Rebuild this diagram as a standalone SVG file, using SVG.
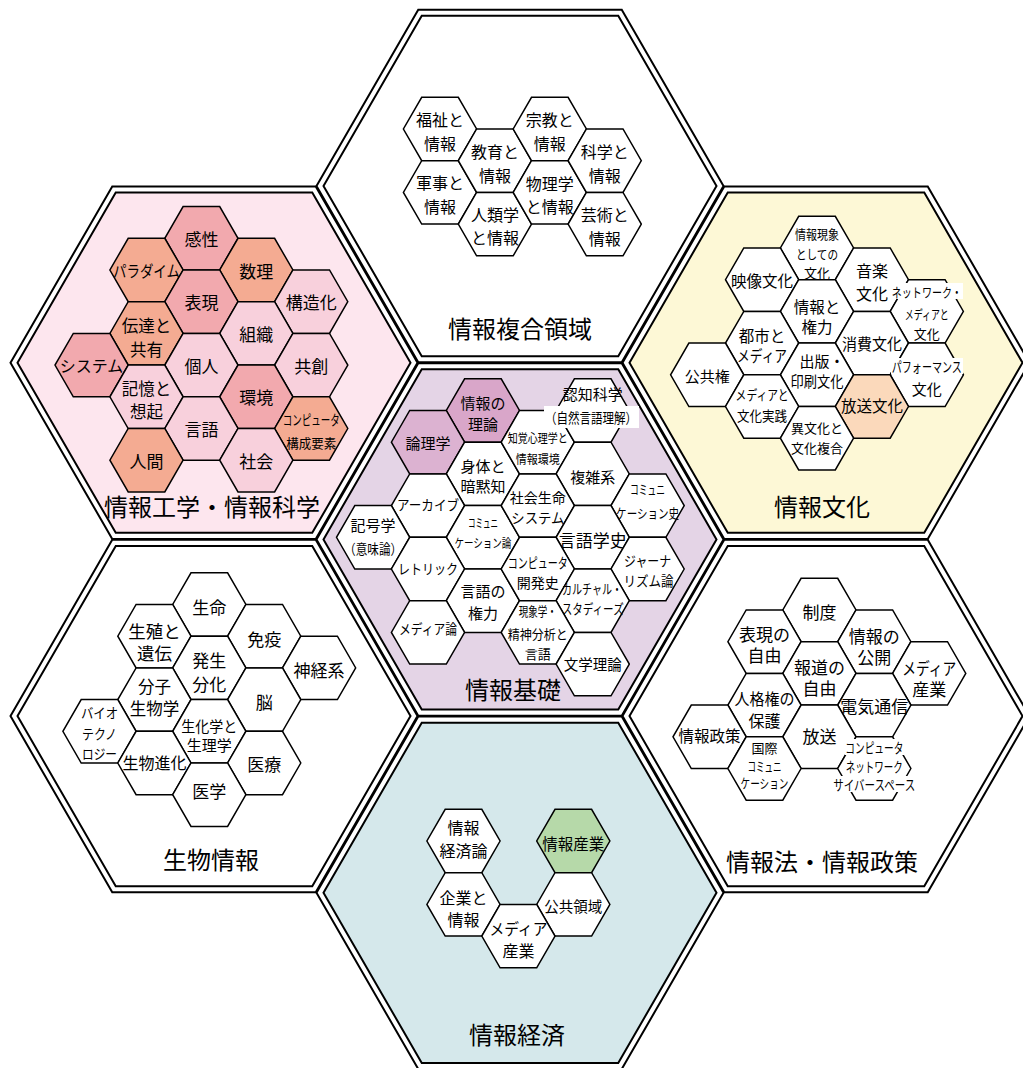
<svg xmlns="http://www.w3.org/2000/svg" xmlns:xlink="http://www.w3.org/1999/xlink" width="1023" height="1068" viewBox="0 0 1023 1068">
<style>
.bo{fill:#fff;stroke:#000;stroke-width:2}
.bi{stroke:#000;stroke-width:2}
.hs{stroke:#000;stroke-width:1.5}
.w{fill:#fff}.sa{fill:#f4ab92}.pk{fill:#f2a9ae}.lp{fill:#f8d0dc}
.mv{fill:#d9a6c9}.mv2{fill:#dcb2d1}.pe{fill:#fbd9bb}.gr{fill:#b6d9a9}
.t,.t tspan{font-family:"Noto Sans CJK JP","Noto Sans",sans-serif;text-anchor:middle;dominant-baseline:central;fill:#000}
.ttl{font-size:24px}
.bg{fill:#fff}
</style>
<defs>
<polygon id="BO" points="203.5,0 101.75,176.24 -101.75,176.24 -203.5,0 -101.75,-176.24 101.75,-176.24"/>
<polygon id="BI" points="196.5,0 98.25,170.17 -98.25,170.17 -196.5,0 -98.25,-170.17 98.25,-170.17"/>
<polygon id="h" points="36.6,0 18.3,31.7 -18.3,31.7 -36.6,0 -18.3,-31.7 18.3,-31.7"/>
</defs>
<rect width="1023" height="1068" fill="#fff"/>

<g id="area-top"><use href="#BO" x="520" y="186" class="bo"/><use href="#BI" x="520" y="186" class="bi" fill="#fff"/></g>
<g id="area-pink"><use href="#BO" x="214" y="362.7" class="bo"/><use href="#BI" x="214" y="362.7" class="bi" fill="#fde6ee"/></g>
<g id="area-yellow"><use href="#BO" x="826" y="362.7" class="bo"/><use href="#BI" x="826" y="362.7" class="bi" fill="#fdf8d6"/></g>
<g id="area-center"><use href="#BO" x="520" y="539.4" class="bo"/><use href="#BI" x="520" y="539.4" class="bi" fill="#e4d4e6"/></g>
<g id="area-bio"><use href="#BO" x="214" y="716.1" class="bo"/><use href="#BI" x="214" y="716.1" class="bi" fill="#fff"/></g>
<g id="area-law"><use href="#BO" x="826" y="716.1" class="bo"/><use href="#BI" x="826" y="716.1" class="bi" fill="#fff"/></g>
<g id="area-econ"><use href="#BO" x="520" y="892.8" class="bo"/><use href="#BI" x="520" y="892.8" class="bi" fill="#d5e8eb"/></g>

<g id="connectors"/>

<!-- top cluster -->
<g id="n-fukushi"><use href="#h" x="440" y="129" class="hs w"/><text class="t" font-size="16"><tspan x="440" y="119">福祉と</tspan><tspan x="440" y="143">情報</tspan></text></g>
<g id="n-gunji"><use href="#h" x="440" y="192.4" class="hs w"/><text class="t" font-size="16"><tspan x="440" y="182.4">軍事と</tspan><tspan x="440" y="206.4">情報</tspan></text></g>
<g id="n-kyoiku"><use href="#h" x="494.9" y="160.7" class="hs w"/><text class="t" font-size="16"><tspan x="494.9" y="150.7">教育と</tspan><tspan x="494.9" y="174.7">情報</tspan></text></g>
<g id="n-jinrui"><use href="#h" x="494.9" y="224.1" class="hs w"/><text class="t" font-size="16"><tspan x="494.9" y="214">人類学</tspan><tspan x="494.9" y="237">と情報</tspan></text></g>
<g id="n-shukyo"><use href="#h" x="549.8" y="129" class="hs w"/><text class="t" font-size="16"><tspan x="549.8" y="119">宗教と</tspan><tspan x="549.8" y="143">情報</tspan></text></g>
<g id="n-butsuri"><use href="#h" x="549.8" y="192.4" class="hs w"/><text class="t" font-size="16"><tspan x="549.8" y="183">物理学</tspan><tspan x="549.8" y="206">と情報</tspan></text></g>
<g id="n-kagaku"><use href="#h" x="604.7" y="160.7" class="hs w"/><text class="t" font-size="16"><tspan x="604.7" y="150.7">科学と</tspan><tspan x="604.7" y="174.7">情報</tspan></text></g>
<g id="n-geijutsu"><use href="#h" x="604.7" y="224.1" class="hs w"/><text class="t" font-size="16"><tspan x="604.7" y="214.1">芸術と</tspan><tspan x="604.7" y="238.1">情報</tspan></text></g>

<!-- pink cluster -->
<g id="n-kansei"><use href="#h" x="201.4" y="238.3" class="hs pk"/><text class="t" font-size="17" x="201.4" y="238.3">感性</text></g>
<g id="n-paradigm"><use href="#h" x="146.5" y="270" class="hs sa"/><text class="t" font-size="16" x="146.5" y="270" textLength="67" lengthAdjust="spacingAndGlyphs">パラダイム</text></g>
<g id="n-suri"><use href="#h" x="256.3" y="270" class="hs sa"/><text class="t" font-size="17" x="256.3" y="270">数理</text></g>
<g id="n-hyogen"><use href="#h" x="201.4" y="301.7" class="hs pk"/><text class="t" font-size="17" x="201.4" y="301.7">表現</text></g>
<g id="n-kozoka"><use href="#h" x="311.2" y="301.7" class="hs lp"/><text class="t" font-size="17" x="311.2" y="301.7">構造化</text></g>
<g id="n-dentatsu"><use href="#h" x="146.5" y="333.4" class="hs sa"/><text class="t" font-size="16.5"><tspan x="146.5" y="324.5">伝達と</tspan><tspan x="146.5" y="349">共有</tspan></text></g>
<g id="n-soshiki"><use href="#h" x="256.3" y="333.4" class="hs lp"/><text class="t" font-size="17" x="256.3" y="333.4">組織</text></g>
<g id="n-system"><use href="#h" x="91.6" y="365.1" class="hs pk"/><text class="t" font-size="16" x="91.6" y="365.1">システム</text></g>
<g id="n-kojin"><use href="#h" x="201.4" y="365.1" class="hs lp"/><text class="t" font-size="17" x="201.4" y="365.1">個人</text></g>
<g id="n-kyoso"><use href="#h" x="311.2" y="365.1" class="hs lp"/><text class="t" font-size="17" x="311.2" y="365.1">共創</text></g>
<g id="n-kioku"><use href="#h" x="146.5" y="396.8" class="hs lp"/><text class="t" font-size="16.5"><tspan x="146.5" y="388">記憶と</tspan><tspan x="146.5" y="411">想起</tspan></text></g>
<g id="n-kankyo"><use href="#h" x="256.3" y="396.8" class="hs pk"/><text class="t" font-size="17" x="256.3" y="396.8">環境</text></g>
<g id="n-gengo"><use href="#h" x="201.4" y="428.5" class="hs lp"/><text class="t" font-size="17" x="201.4" y="428.5">言語</text></g>
<g id="n-computer"><use href="#h" x="311.2" y="428.5" class="hs sa"/><text class="t" font-size="14"><tspan x="311.2" y="419" textLength="57" lengthAdjust="spacingAndGlyphs">コンピュータ</tspan><tspan x="311.2" y="441.5" font-size="13" textLength="50" lengthAdjust="spacingAndGlyphs">構成要素</tspan></text></g>
<g id="n-ningen"><use href="#h" x="146.5" y="460.2" class="hs sa"/><text class="t" font-size="17" x="146.5" y="460.2">人間</text></g>
<g id="n-shakai"><use href="#h" x="256.3" y="460.2" class="hs lp"/><text class="t" font-size="17" x="256.3" y="460.2">社会</text></g>

<!-- yellow cluster -->
<g id="n-genshou"><use href="#h" x="817" y="248" class="hs w"/><text class="t" font-size="13"><tspan x="817" y="233" textLength="44" lengthAdjust="spacingAndGlyphs">情報現象</tspan><tspan x="817" y="253" textLength="42" lengthAdjust="spacingAndGlyphs">としての</tspan><tspan x="817" y="272">文化</tspan></text></g>
<g id="n-eizo"><use href="#h" x="762.1" y="279.7" class="hs w"/><text class="t" font-size="15.5" x="762.1" y="280" textLength="62" lengthAdjust="spacingAndGlyphs">映像文化</text></g>
<g id="n-ongaku"><use href="#h" x="871.9" y="279.7" class="hs w"/><text class="t" font-size="16"><tspan x="872" y="270">音楽</tspan><tspan x="872" y="293">文化</tspan></text></g>
<g id="n-kenryoku"><use href="#h" x="817" y="311.4" class="hs w"/><text class="t" font-size="15.5"><tspan x="817" y="305.5">情報と</tspan><tspan x="817" y="325.5">権力</tspan></text></g>
<g id="n-toshi"><use href="#h" x="762.1" y="343.1" class="hs w"/><text class="t" font-size="15.5"><tspan x="762.1" y="334.5">都市と</tspan><tspan x="762.1" y="354.5" textLength="50" lengthAdjust="spacingAndGlyphs">メディア</tspan></text></g>
<g id="n-network"><use href="#h" x="926.8" y="311.4" class="hs w"/><rect class="bg" x="891" y="283" width="72" height="16"/><text class="t" font-size="13"><tspan x="926.8" y="291" textLength="70" lengthAdjust="spacingAndGlyphs">ネットワーク・</tspan><tspan x="926.8" y="313" textLength="44" lengthAdjust="spacingAndGlyphs">メディアと</tspan><tspan x="926.8" y="333">文化</tspan></text></g>
<g id="n-shohi"><use href="#h" x="871.9" y="343.1" class="hs w"/><text class="t" font-size="15.5" x="871.9" y="343" textLength="60" lengthAdjust="spacingAndGlyphs">消費文化</text></g>
<g id="n-kokyoken"><use href="#h" x="707.2" y="374.8" class="hs w"/><text class="t" font-size="15" x="707.2" y="375">公共権</text></g>
<g id="n-shuppan"><use href="#h" x="817" y="374.8" class="hs w"/><text class="t" font-size="15"><tspan x="822" y="360">出版・</tspan><tspan x="817" y="380" textLength="53" lengthAdjust="spacingAndGlyphs">印刷文化</tspan></text></g>
<g id="n-performance"><use href="#h" x="926.8" y="374.8" class="hs w"/><rect class="bg" x="891" y="358" width="72" height="16"/><text class="t" font-size="14"><tspan x="926.8" y="366" textLength="70" lengthAdjust="spacingAndGlyphs">パフォーマンス</tspan><tspan x="926.8" y="388" font-size="15">文化</tspan></text></g>
<g id="n-jissen"><use href="#h" x="762.1" y="406.5" class="hs w"/><text class="t" font-size="13.5"><tspan x="762.1" y="394" textLength="53" lengthAdjust="spacingAndGlyphs">メディアと</tspan><tspan x="762.1" y="415" textLength="50" lengthAdjust="spacingAndGlyphs">文化実践</tspan></text></g>
<g id="n-hoso-bunka"><use href="#h" x="871.9" y="406.5" class="hs pe"/><text class="t" font-size="15.5" x="871.9" y="405" textLength="62" lengthAdjust="spacingAndGlyphs">放送文化</text></g>
<g id="n-ibunka"><use href="#h" x="817" y="438.2" class="hs w"/><text class="t" font-size="13"><tspan x="817" y="427">異文化と</tspan><tspan x="817" y="447">文化複合</tspan></text></g>

<!-- center cluster -->
<g id="n-riron"><use href="#h" x="482.9" y="410.5" class="hs mv"/><text class="t" font-size="15"><tspan x="482.9" y="402">情報の</tspan><tspan x="482.9" y="423">理論</tspan></text></g>
<g id="n-ronri"><use href="#h" x="428" y="442.2" class="hs mv2"/><text class="t" font-size="15" x="428" y="442">論理学</text></g>
<g id="n-shintai"><use href="#h" x="482.9" y="473.9" class="hs w"/><text class="t" font-size="15"><tspan x="482.9" y="465">身体と</tspan><tspan x="482.9" y="485">暗黙知</tspan></text></g>
<g id="n-archive"><use href="#h" x="428" y="505.6" class="hs w"/><text class="t" font-size="14" x="428" y="504" textLength="62" lengthAdjust="spacingAndGlyphs">アーカイブ</text></g>
<g id="n-kigo"><use href="#h" x="373.1" y="537.3" class="hs w"/><text class="t" font-size="15"><tspan x="373.1" y="524">記号学</tspan><tspan x="373.1" y="548" font-size="14" textLength="58" lengthAdjust="spacingAndGlyphs">（意味論）</tspan></text></g>
<g id="n-comm-ron"><use href="#h" x="482.9" y="537.3" class="hs w"/><text class="t" font-size="12.5"><tspan x="482.9" y="522" textLength="30" lengthAdjust="spacingAndGlyphs">コミュニ</tspan><tspan x="482.9" y="542" textLength="57" lengthAdjust="spacingAndGlyphs">ケーション論</tspan></text></g>
<g id="n-rhetoric"><use href="#h" x="428" y="569" class="hs w"/><text class="t" font-size="14" x="428" y="568" textLength="60" lengthAdjust="spacingAndGlyphs">レトリック</text></g>
<g id="n-gengo-kenryoku"><use href="#h" x="482.9" y="600.7" class="hs w"/><text class="t" font-size="15"><tspan x="482.9" y="590">言語の</tspan><tspan x="482.9" y="612">権力</tspan></text></g>
<g id="n-media-ron"><use href="#h" x="428" y="632.4" class="hs w"/><text class="t" font-size="14" x="428" y="628" textLength="58" lengthAdjust="spacingAndGlyphs">メディア論</text></g>
<g id="n-chikaku"><use href="#h" x="537.8" y="442.2" class="hs w"/><text class="t" font-size="12.5"><tspan x="537.8" y="437" textLength="60" lengthAdjust="spacingAndGlyphs">知覚心理学と</tspan><tspan x="537.8" y="458" textLength="44" lengthAdjust="spacingAndGlyphs">情報環境</tspan></text></g>
<g id="n-ninchi"><use href="#h" x="592.7" y="410.5" class="hs w"/><rect class="bg" x="544" y="406" width="95" height="22"/><text class="t" font-size="15"><tspan x="592.7" y="393" textLength="60" lengthAdjust="spacingAndGlyphs">認知科学</tspan><tspan x="591" y="417" font-size="14" textLength="92" lengthAdjust="spacingAndGlyphs">（自然言語理解）</tspan></text></g>
<g id="n-fukuzatsu"><use href="#h" x="592.7" y="473.9" class="hs w"/><text class="t" font-size="15" x="592.7" y="476">複雑系</text></g>
<g id="n-seimei"><use href="#h" x="537.8" y="505.6" class="hs w"/><text class="t" font-size="14"><tspan x="537.8" y="497">社会生命</tspan><tspan x="537.8" y="517" textLength="53" lengthAdjust="spacingAndGlyphs">システム</tspan></text></g>
<g id="n-comm-shi"><use href="#h" x="647.6" y="505.6" class="hs w"/><text class="t" font-size="13"><tspan x="647.6" y="488" textLength="35" lengthAdjust="spacingAndGlyphs">コミュニ</tspan><tspan x="647.6" y="512" textLength="63" lengthAdjust="spacingAndGlyphs">ケーション史</tspan></text></g>
<g id="n-gengogakushi"><use href="#h" x="592.7" y="537.3" class="hs w"/><text class="t" font-size="16.5" x="592.7" y="540" textLength="68" lengthAdjust="spacingAndGlyphs">言語学史</text></g>
<g id="n-comp-kaihatsu"><use href="#h" x="537.8" y="569" class="hs w"/><text class="t" font-size="14"><tspan x="537.8" y="562" textLength="60" lengthAdjust="spacingAndGlyphs">コンピュータ</tspan><tspan x="537.8" y="582">開発史</tspan></text></g>
<g id="n-journalism"><use href="#h" x="647.6" y="569" class="hs w"/><text class="t" font-size="14"><tspan x="647.6" y="560" textLength="47" lengthAdjust="spacingAndGlyphs">ジャーナ</tspan><tspan x="648.5" y="580" textLength="50" lengthAdjust="spacingAndGlyphs">リズム論</tspan></text></g>
<g id="n-cultural"><use href="#h" x="592.7" y="600.7" class="hs w"/><text class="t" font-size="13.5"><tspan x="592" y="588" textLength="60" lengthAdjust="spacingAndGlyphs">カルチャル・</tspan><tspan x="592.7" y="608" textLength="62" lengthAdjust="spacingAndGlyphs">スタディーズ</tspan></text></g>
<g id="n-genshogaku"><use href="#h" x="537.8" y="632.4" class="hs w"/><text class="t" font-size="13"><tspan x="537.8" y="610" textLength="38" lengthAdjust="spacingAndGlyphs">現象学・</tspan><tspan x="537.8" y="633" textLength="60" lengthAdjust="spacingAndGlyphs">精神分析と</tspan><tspan x="537.8" y="653">言語</tspan></text></g>
<g id="n-bungaku"><use href="#h" x="592.7" y="664.1" class="hs w"/><text class="t" font-size="15" x="592.7" y="663" textLength="58" lengthAdjust="spacingAndGlyphs">文学理論</text></g>

<!-- bio cluster -->
<g id="n-seimei2"><use href="#h" x="209.3" y="604.5" class="hs w"/><text class="t" font-size="17" x="209.3" y="606">生命</text></g>
<g id="n-seishoku"><use href="#h" x="154.4" y="636.2" class="hs w"/><text class="t" font-size="17.5"><tspan x="154.4" y="629.5">生殖と</tspan><tspan x="154.4" y="652">遺伝</tspan></text></g>
<g id="n-meneki"><use href="#h" x="264.2" y="636.2" class="hs w"/><text class="t" font-size="17" x="264.2" y="638">免疫</text></g>
<g id="n-hassei"><use href="#h" x="209.3" y="667.9" class="hs w"/><text class="t" font-size="17"><tspan x="209.3" y="659">発生</tspan><tspan x="209.3" y="683">分化</tspan></text></g>
<g id="n-shinkei"><use href="#h" x="319.1" y="667.9" class="hs w"/><text class="t" font-size="17" x="319.1" y="669">神経系</text></g>
<g id="n-bunshi"><use href="#h" x="154.4" y="699.6" class="hs w"/><text class="t" font-size="16.5"><tspan x="154.4" y="686">分子</tspan><tspan x="154.4" y="708">生物学</tspan></text></g>
<g id="n-no"><use href="#h" x="264.2" y="699.6" class="hs w"/><text class="t" font-size="17" x="264.2" y="701">脳</text></g>
<g id="n-bio"><use href="#h" x="99.5" y="731.3" class="hs w"/><text class="t" font-size="14"><tspan x="99.5" y="712" textLength="37" lengthAdjust="spacingAndGlyphs">バイオ</tspan><tspan x="99.5" y="733" textLength="35" lengthAdjust="spacingAndGlyphs">テクノ</tspan><tspan x="99.5" y="753" textLength="35" lengthAdjust="spacingAndGlyphs">ロジー</tspan></text></g>
<g id="n-seika"><use href="#h" x="209.3" y="731.3" class="hs w"/><text class="t" font-size="15"><tspan x="209.3" y="724.5" textLength="56" lengthAdjust="spacingAndGlyphs">生化学と</tspan><tspan x="209.3" y="744">生理学</tspan></text></g>
<g id="n-shinka"><use href="#h" x="154.4" y="763" class="hs w"/><text class="t" font-size="16" x="154.4" y="762">生物進化</text></g>
<g id="n-iryo"><use href="#h" x="264.2" y="763" class="hs w"/><text class="t" font-size="17" x="264.2" y="763">医療</text></g>
<g id="n-igaku"><use href="#h" x="209.3" y="794.7" class="hs w"/><text class="t" font-size="17" x="209.3" y="790">医学</text></g>

<!-- law cluster -->
<g id="n-seido"><use href="#h" x="819.4" y="610" class="hs w"/><text class="t" font-size="17" x="819.4" y="611">制度</text></g>
<g id="n-hyogen-jiyu"><use href="#h" x="764.5" y="641.7" class="hs w"/><text class="t" font-size="17"><tspan x="764.5" y="633">表現の</tspan><tspan x="764.5" y="654">自由</tspan></text></g>
<g id="n-kokai"><use href="#h" x="874.3" y="641.7" class="hs w"/><text class="t" font-size="17"><tspan x="874.3" y="635">情報の</tspan><tspan x="874.3" y="656">公開</tspan></text></g>
<g id="n-hodo"><use href="#h" x="819.4" y="673.4" class="hs w"/><text class="t" font-size="17"><tspan x="819.4" y="666">報道の</tspan><tspan x="819.4" y="687">自由</tspan></text></g>
<g id="n-media-sangyo"><use href="#h" x="929.2" y="673.4" class="hs w"/><text class="t" font-size="17"><tspan x="929.2" y="667" textLength="54" lengthAdjust="spacingAndGlyphs">メディア</tspan><tspan x="929.2" y="688">産業</tspan></text></g>
<g id="n-jinkaku"><use href="#h" x="764.5" y="705.1" class="hs w"/><text class="t" font-size="16"><tspan x="764.5" y="698" textLength="60" lengthAdjust="spacingAndGlyphs">人格権の</tspan><tspan x="764.5" y="720">保護</tspan></text></g>
<g id="n-denki"><use href="#h" x="874.3" y="705.1" class="hs w"/><text class="t" font-size="17" x="874.3" y="705">電気通信</text></g>
<g id="n-seisaku"><use href="#h" x="709.6" y="736.8" class="hs w"/><text class="t" font-size="16" x="709.6" y="735" textLength="62" lengthAdjust="spacingAndGlyphs">情報政策</text></g>
<g id="n-hoso"><use href="#h" x="819.4" y="736.8" class="hs w"/><text class="t" font-size="17" x="819.4" y="735">放送</text></g>
<g id="n-kokusai"><use href="#h" x="764.5" y="768.5" class="hs w"/><text class="t" font-size="13"><tspan x="764.5" y="747">国際</tspan><tspan x="764.5" y="765" textLength="34" lengthAdjust="spacingAndGlyphs">コミュニ</tspan><tspan x="764.5" y="782" textLength="48" lengthAdjust="spacingAndGlyphs">ケーション</tspan></text></g>
<g id="n-cyber"><use href="#h" x="874.3" y="768.5" class="hs w"/><rect class="bg" x="845" y="739" width="59" height="16"/><rect class="bg" x="846" y="758" width="58" height="16"/><rect class="bg" x="833" y="776" width="84" height="16"/><text class="t" font-size="14"><tspan x="874.3" y="747" textLength="58" lengthAdjust="spacingAndGlyphs">コンピュータ</tspan><tspan x="874.3" y="766" textLength="57" lengthAdjust="spacingAndGlyphs">ネットワーク</tspan><tspan x="874.3" y="784" textLength="82" lengthAdjust="spacingAndGlyphs">サイバースペース</tspan></text></g>

<!-- econ cluster -->
<g id="n-keizairon"><use href="#h" x="463.5" y="841" class="hs w"/><text class="t" font-size="16"><tspan x="463.5" y="827">情報</tspan><tspan x="463.5" y="850">経済論</tspan></text></g>
<g id="n-johosangyo"><use href="#h" x="573.3" y="841" class="hs gr"/><text class="t" font-size="15.5" x="573.3" y="843" textLength="62" lengthAdjust="spacingAndGlyphs">情報産業</text></g>
<g id="n-kigyo"><use href="#h" x="463.5" y="904.4" class="hs w"/><text class="t" font-size="16"><tspan x="463.5" y="897">企業と</tspan><tspan x="463.5" y="919">情報</tspan></text></g>
<g id="n-kokyo-ryoiki"><use href="#h" x="573.3" y="904.4" class="hs w"/><text class="t" font-size="15" x="573.3" y="905" textLength="58" lengthAdjust="spacingAndGlyphs">公共領域</text></g>
<g id="n-media-sangyo2"><use href="#h" x="518.4" y="936.1" class="hs w"/><text class="t" font-size="16"><tspan x="518.4" y="928" textLength="58" lengthAdjust="spacingAndGlyphs">メディア</tspan><tspan x="518.4" y="950">産業</tspan></text></g>

<!-- titles -->
<g id="titles">
<text class="t ttl" x="520" y="327">情報複合領域</text>
<text class="t ttl" x="212" y="505">情報工学・情報科学</text>
<text class="t ttl" x="822" y="505">情報文化</text>
<text class="t ttl" x="513" y="688">情報基礎</text>
<text class="t ttl" x="211" y="858">生物情報</text>
<text class="t ttl" x="822" y="860">情報法・情報政策</text>
<text class="t ttl" x="517" y="1033">情報経済</text>
</g>
</svg>
